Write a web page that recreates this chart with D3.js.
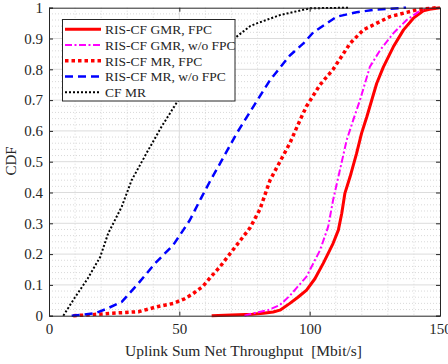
<!DOCTYPE html>
<html><head><meta charset="utf-8">
<script src="https://cdn.jsdelivr.net/npm/d3@7"></script>
<style>body{margin:0;background:#fff}svg{display:block}text{font-family:"Liberation Serif","Times New Roman",Times,serif;fill:#262626}</style>
</head><body><svg id="c" width="448" height="364"></svg>
<script>
const xTicks = [0, 50, 100, 150];
const yTicks = [0, 0.1, 0.2, 0.3, 0.4, 0.5, 0.6, 0.7, 0.8, 0.9, 1];
const seriesNames = ["RIS-CF GMR, FPC", "RIS-CF GMR, w/o FPC", "RIS-CF MR, FPC", "RIS-CF MR, w/o FPC", "CF MR"];

const gmrFpcX = [62.4, 70, 78, 82.2, 86, 88.6, 92.4, 95.5, 98.8, 102, 105.2, 109, 111, 112.3, 113.5, 115.5, 118, 119.9, 121.9, 125.7, 128.3, 132.1, 136, 139.8, 143.6, 146, 150];
const gmrFpcY = [0, 0.002, 0.005, 0.008, 0.012, 0.018, 0.04, 0.06, 0.083, 0.12, 0.17, 0.235, 0.278, 0.332, 0.397, 0.451, 0.527, 0.592, 0.645, 0.754, 0.808, 0.873, 0.928, 0.966, 0.99, 0.995, 1];

const gmrNoX = [75, 78.4, 84, 88.6, 92.4, 95.5, 98.8, 101.4, 104, 107.1, 109, 111.6, 114.2, 116.7, 119.3, 123.1, 127, 132.1, 137.2, 142.3, 146];
const gmrNoY = [0, 0.008, 0.018, 0.035, 0.065, 0.095, 0.127, 0.17, 0.213, 0.289, 0.376, 0.473, 0.57, 0.635, 0.70, 0.808, 0.862, 0.917, 0.96, 0.99, 1];

const mrFpcX = [9.3, 16, 24, 34.3, 41.9, 47.7, 52, 55, 59, 62, 65.6, 70.7, 77.1, 80.9, 84.8, 88.6, 92.4, 96.3, 98.8, 104, 109, 115.5, 120.6, 130.8, 141, 148.7];
const mrFpcY = [0, 0.003, 0.008, 0.013, 0.03, 0.04, 0.055, 0.07, 0.095, 0.125, 0.159, 0.215, 0.285, 0.345, 0.44, 0.5, 0.56, 0.635, 0.68, 0.75, 0.8, 0.884, 0.928, 0.971, 0.993, 1];

const mrNoX = [8.7, 13, 17.6, 22, 27.9, 34.3, 40.7, 47.7, 51.5, 54, 58.6, 62, 66, 72, 78.4, 84.8, 92.4, 97.6, 101.4, 110.4, 118, 124.4, 137];
const mrNoY = [0, 0.003, 0.008, 0.022, 0.045, 0.105, 0.17, 0.23, 0.278, 0.31, 0.386, 0.44, 0.5, 0.592, 0.679, 0.765, 0.845, 0.884, 0.92, 0.971, 0.985, 0.993, 1];

const cfMrX = [5.5, 10, 14.8, 19.6, 22.7, 27.9, 31.7, 38.1, 43.2, 49.6, 56, 63, 72, 77.1, 79.7, 88.6, 100.1, 114.7];
const cfMrY = [0, 0.06, 0.12, 0.19, 0.267, 0.354, 0.44, 0.538, 0.614, 0.70, 0.78, 0.85, 0.906, 0.94, 0.949, 0.976, 0.998, 1];

const styles = [
  {color: "#ff0000", width: 3, dash: null},
  {color: "#ff00ff", width: 2, dash: "7,2.5,2,2.5"},
  {color: "#ff0000", width: 3.5, dash: "3.5,3"},
  {color: "#0000ff", width: 2.5, dash: "8,5"},
  {color: "#000000", width: 2, dash: "2,2"}
];
const data = [[gmrFpcX, gmrFpcY], [gmrNoX, gmrNoY], [mrFpcX, mrFpcY], [mrNoX, mrNoY], [cfMrX, cfMrY]];

const svg = d3.select("#c");
const L = 49, R = 440, T = 7.7, B = 315.7;
const x = d3.scaleLinear().domain([0, 150]).range([L, R]);
const y = d3.scaleLinear().domain([0, 1]).range([B, T]);

// minor grid
const g = svg.append("g");
g.selectAll(".mx").data(d3.range(10, 150, 10).filter(v => v % 50 !== 0)).join("line")
  .attr("x1", d => x(d)).attr("x2", d => x(d)).attr("y1", T).attr("y2", B)
  .attr("stroke", "#c8c8c8").attr("stroke-width", 0.7).attr("stroke-dasharray", "1,2");
g.selectAll(".my").data(d3.range(0.02, 1, 0.02).filter(v => Math.abs(v * 10 - Math.round(v * 10)) > 1e-6)).join("line")
  .attr("y1", d => y(d)).attr("y2", d => y(d)).attr("x1", L).attr("x2", R)
  .attr("stroke", "#c8c8c8").attr("stroke-width", 0.7).attr("stroke-dasharray", "1,2");
// major grid
g.selectAll(".Mx").data(xTicks.slice(1, -1)).join("line")
  .attr("x1", d => x(d)).attr("x2", d => x(d)).attr("y1", T).attr("y2", B)
  .attr("stroke", "#dcdcdc").attr("stroke-width", 1);
g.selectAll(".My").data(yTicks.slice(1, -1)).join("line")
  .attr("y1", d => y(d)).attr("y2", d => y(d)).attr("x1", L).attr("x2", R)
  .attr("stroke", "#dcdcdc").attr("stroke-width", 1);

// curves
const line = d3.line().x(d => x(d[0])).y(d => y(d[1]));
data.forEach((s, i) => {
  const pts = s[0].map((v, k) => [v, s[1][k]]);
  svg.append("path").datum(pts).attr("d", line).attr("fill", "none")
    .attr("stroke", styles[i].color).attr("stroke-width", styles[i].width)
    .attr("stroke-dasharray", styles[i].dash).attr("stroke-linejoin", "round");
});

// axes
const ax = svg.append("g").attr("transform", `translate(0,${B})`)
  .call(d3.axisBottom(x).tickValues(xTicks).tickSize(-4).tickPadding(8).tickFormat(d3.format("d")));
const ay = svg.append("g").attr("transform", `translate(${L},0)`)
  .call(d3.axisLeft(y).tickValues(yTicks).tickSize(-4).tickPadding(6).tickFormat(d => d === 0 || d === 1 ? String(d) : d3.format(".1f")(d)));
const at = svg.append("g").attr("transform", `translate(0,${T})`)
  .call(d3.axisTop(x).tickValues(xTicks).tickSize(-4).tickFormat(""));
const ar = svg.append("g").attr("transform", `translate(${R},0)`)
  .call(d3.axisRight(y).tickValues(yTicks).tickSize(-4).tickFormat(""));
[ax, ay, at, ar].forEach(a => {
  a.attr("font-family", null);
  a.selectAll("path").attr("stroke", "#262626").attr("stroke-width", 1);
  a.selectAll("line").attr("stroke", "#262626");
  a.selectAll("text").style("font-family", '"Liberation Serif","Times New Roman",serif').style("font-size", "15px").attr("fill", "#262626");
});

svg.append("text").attr("x", 243.5).attr("y", 356).attr("text-anchor", "middle")
  .style("font-size", "15.5px").style("white-space", "pre").text("Uplink Sum Net Throughput  [Mbit/s]");
svg.append("text").attr("transform", "translate(16,161) rotate(-90)").attr("text-anchor", "middle")
  .style("font-size", "15px").text("CDF");

// legend
const lg = svg.append("g");
lg.append("rect").attr("x", 62.5).attr("y", 19.5).attr("width", 172.5).attr("height", 81.5)
  .attr("fill", "#fff").attr("stroke", "#262626").attr("stroke-width", 1);
seriesNames.forEach((n, i) => {
  const yy = 29.3 + i * 15.75;
  lg.append("line").attr("x1", 65).attr("x2", 101).attr("y1", yy).attr("y2", yy)
    .attr("stroke", styles[i].color).attr("stroke-width", styles[i].width).attr("stroke-dasharray", styles[i].dash);
  lg.append("text").attr("x", 105).attr("y", yy + 4.7).style("font-size", "13.5px").text(n);
});
</script></body></html>
